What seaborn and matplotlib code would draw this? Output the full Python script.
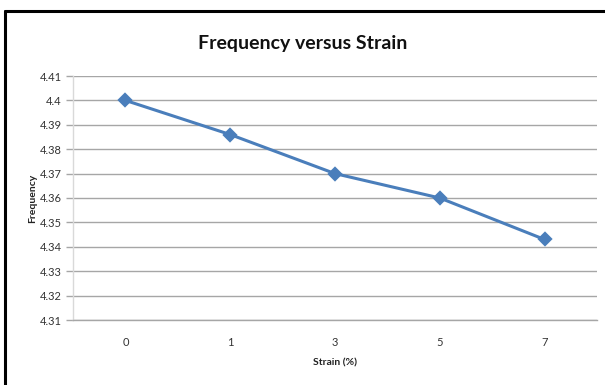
import matplotlib
matplotlib.use("Agg")
import matplotlib.pyplot as plt
import seaborn as sns
import pandas as pd
import numpy as np
from matplotlib.ticker import FixedLocator

# Measured resonance frequency at each strain level
strain_labels = ["0", "1", "3", "5", "7"]
frequency = [4.400, 4.386, 4.370, 4.360, 4.343]
y_ticks = [4.31, 4.32, 4.33, 4.34, 4.35, 4.36, 4.37, 4.38, 4.39, 4.40, 4.41]
y_tick_labels = ["4.31", "4.32", "4.33", "4.34", "4.35", "4.36", "4.37", "4.38", "4.39", "4.4", "4.41"]

sns.set_theme(style="white")
plt.rcParams["font.family"] = ["Lato", "DejaVu Sans"]

df = pd.DataFrame({"Strain": pd.Categorical(strain_labels, categories=strain_labels),
                   "Frequency": frequency})

fig = plt.figure(figsize=(6.05, 3.85), dpi=100)
ax = fig.add_axes([73 / 605, 1 - 320 / 385, (597 - 73) / 605, (320 - 76) / 385])

sns.pointplot(data=df, x="Strain", y="Frequency", ax=ax, color="#4A7EBB",
              markers="D", markersize=6, linewidth=2.2, errorbar=None)

ax.set_xlim(-0.5, len(strain_labels) - 0.5)
ax.set_ylim(4.31, 4.41)
ax.set_yticks(y_ticks)
ax.set_yticklabels(y_tick_labels)
ax.yaxis.grid(True, color="#A6A6A6", linewidth=1.0)
ax.set_axisbelow(True)

# Excel-style boundary tick marks between categories
ax.xaxis.set_minor_locator(FixedLocator(np.arange(-0.5, len(strain_labels), 1.0)))
ax.tick_params(axis="x", which="major", length=0, pad=12, labelsize=8, colors="#333333")
ax.tick_params(axis="x", which="minor", length=4, width=1, color="#A6A6A6", direction="out")
ax.tick_params(axis="y", which="major", length=5, width=1, color="#A6A6A6", direction="out",
               pad=3, labelsize=8, labelcolor="#333333", left=True)

for side in ["top", "right"]:
    ax.spines[side].set_visible(False)
ax.spines["left"].set_color("#D9D9D9")
ax.spines["bottom"].set_color("#A6A6A6")
ax.spines["left"].set_linewidth(1.0)
ax.spines["bottom"].set_linewidth(1.0)

ax.set_xlabel("Strain (%)", fontsize=7.5, fontweight="bold", color="#222222", labelpad=8)
ax.set_ylabel("Frequency", fontsize=7.5, fontweight="bold", color="#222222", labelpad=2)

fig.text(0.5, 1 - 44 / 385, "Frequency versus Strain", ha="center", va="center",
         fontsize=14, fontweight="bold", color="#111111")

# Chart frame edges
fig.add_artist(plt.Line2D([5 / 605, 5 / 605], [0, 1 - 11 / 385], transform=fig.transFigure,
                          color="black", linewidth=2.2))
fig.add_artist(plt.Line2D([5 / 605, 1], [1 - 11 / 385, 1 - 11 / 385], transform=fig.transFigure,
                          color="black", linewidth=2.2))

fig.savefig("out.png", dpi=100)
